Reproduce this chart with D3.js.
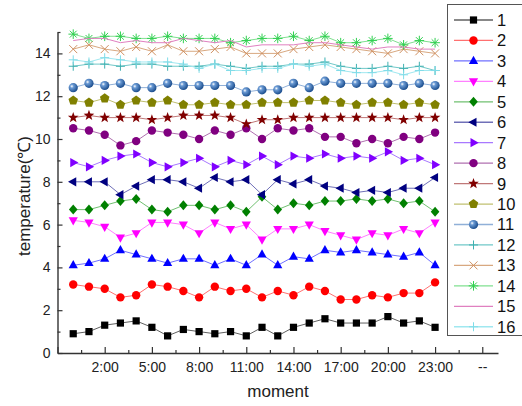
<!DOCTYPE html>
<html><head><meta charset="utf-8">
<script src="https://cdn.jsdelivr.net/npm/d3@7/dist/d3.min.js"></script>
<style>body{margin:0;background:#fff;}svg{display:block;font-family:Arial,"Liberation Sans",sans-serif;}</style>
</head><body>
<svg id="chart" width="522" height="406"></svg>
<script>
const hours = [0,1,2,3,4,5,6,7,8,9,10,11,12,13,14,15,16,17,18,19,20,21,22,23];
const xTickValues = [-1,2,5,8,11,14,17,20,23,26];
const xTickLabels = ["","2:00","5:00","8:00","11:00","14:00","17:00","20:00","23:00","--"];
const xMinorTicks = [0.5,3.5,6.5,9.5,12.5,15.5,18.5,21.5,24.5];
const yTickValues = [0,2,4,6,8,10,12,14];
const yMinorTicks = [1,3,5,7,9,11,13,15];
const seriesNames = ["1","2","3","4","5","6","7","8","9","10","11","12","13","14","15","16"];

const s1  = [0.9,1.0,1.3,1.4,1.5,1.2,0.8,1.1,1.0,0.9,1.0,0.8,1.2,0.8,1.2,1.4,1.6,1.4,1.4,1.4,1.7,1.4,1.5,1.2];
const s2  = [3.2,3.1,3.0,2.6,2.7,3.2,3.1,2.9,2.6,3.1,2.9,3.0,2.6,2.9,2.7,3.1,2.9,2.5,2.5,2.7,2.6,2.8,2.8,3.3];
const s3  = [4.1,4.2,4.4,4.8,4.6,4.4,4.2,4.4,4.4,4.1,4.4,4.1,4.6,4.1,4.5,4.4,4.8,4.7,4.8,4.7,4.6,4.5,4.7,4.1];
const s4  = [6.2,6.1,5.9,5.4,5.6,6.1,6.1,6.0,5.6,6.1,5.8,6.0,5.3,5.8,5.8,6.0,5.7,5.5,5.3,5.6,5.5,5.8,5.6,6.1];
const s5  = [6.7,6.7,6.9,7.1,7.2,6.7,6.6,6.9,6.9,6.7,6.9,6.6,7.3,6.7,7.0,6.9,7.1,7.1,7.2,7.1,7.2,7.0,7.1,6.6];
const s6  = [8.0,8.0,8.0,7.4,7.8,8.1,8.1,8.0,7.7,8.2,8.0,8.1,7.4,8.1,7.9,8.1,7.8,7.7,7.5,7.6,7.5,7.7,7.7,8.2];
const s7  = [8.9,8.7,9.0,9.2,9.3,8.9,8.7,8.9,9.1,8.7,9.0,8.8,9.2,8.8,9.2,9.1,9.3,9.1,9.2,9.1,9.4,9.0,9.1,8.8];
const s8  = [10.5,10.4,10.2,9.7,9.9,10.4,10.3,10.2,10.0,10.4,10.2,10.5,10.0,10.5,10.4,10.5,10.1,10.1,9.8,10.0,9.8,10.1,10.0,10.3];
const s9  = [11.0,11.1,11.0,11.0,11.0,10.9,11.0,11.1,11.1,11.1,11.0,10.7,10.9,10.9,11.0,11.0,11.0,11.0,11.0,11.0,11.0,10.9,11.0,11.0];
const s10 = [11.8,11.7,11.9,11.6,11.8,11.7,11.8,11.6,11.6,11.7,11.6,11.6,11.7,11.7,11.7,11.8,11.8,11.7,11.6,11.7,11.7,11.6,11.7,11.6];
const s11 = [12.4,12.6,12.5,12.6,12.4,12.4,12.6,12.5,12.5,12.5,12.5,12.2,12.3,12.3,12.6,12.4,12.7,12.6,12.6,12.6,12.6,12.5,12.6,12.5];
const s12 = [13.4,13.5,13.5,13.4,13.5,13.5,13.4,13.4,13.4,13.5,13.4,13.3,13.4,13.4,13.5,13.5,13.6,13.4,13.3,13.3,13.4,13.3,13.4,13.2];
const s13 = [14.2,14.4,14.2,14.1,14.3,14.1,14.4,14.1,14.1,14.2,14.3,14.0,14.0,14.0,14.2,14.3,14.4,14.3,14.2,14.1,14.0,14.2,14.1,14.0];
const s14 = [14.9,14.7,14.8,14.8,14.7,14.7,14.8,14.7,14.7,14.7,14.5,14.6,14.7,14.7,14.8,14.6,14.8,14.5,14.5,14.6,14.7,14.4,14.6,14.5];
const s15 = [14.6,14.7,14.7,14.5,14.6,14.5,14.5,14.7,14.6,14.5,14.6,14.3,14.4,14.4,14.4,14.5,14.5,14.4,14.3,14.2,14.3,14.3,14.2,14.2];
const s16 = [13.7,13.6,13.8,13.7,13.6,13.6,13.6,13.5,13.3,13.5,13.2,13.2,13.3,13.3,13.5,13.4,13.5,13.2,13.1,13.1,13.2,13.0,13.2,13.2];

const seriesValues = [s1,s2,s3,s4,s5,s6,s7,s8,s9,s10,s11,s12,s13,s14,s15,s16];
const markerColors = ["#000000","#ff0000","#0000ff","#ff00ff","#008000","#000080","#8000ff","#800080","#800000","#808000","#2f6eb5","#3fb0b0","#d09060","#30d050","#e070c0","#80dce8"];
const lineColors   = ["#606060","#ff7070","#7070ff","#ff80ff","#70c070","#7070b8","#a878ff","#b070b0","#c07878","#c0c070","#90b0d8","#70c8c8","#d8a880","#80e090","#e080c0","#a0e8f0"];
const markerTypes  = ["square","circle","up","down","diamond","left","right","circle","star","pentagon","sphere","plus","x","asterisk","none","plus"];

const svg = d3.select("#chart");
const x = d3.scaleLinear().domain([-1,27]).range([57.5,498]);
const y = d3.scaleLinear().domain([0,15]).range([353,32]);

const defs = svg.append("defs");
const grad = defs.append("radialGradient").attr("id","sph").attr("cx","35%").attr("cy","35%").attr("r","65%");
grad.append("stop").attr("offset","0%").attr("stop-color","#ffffff");
grad.append("stop").attr("offset","30%").attr("stop-color","#6a9ad4");
grad.append("stop").attr("offset","100%").attr("stop-color","#1d4f8f");

function poly(pts){return "M"+pts.map(p=>p[0].toFixed(2)+","+p[1].toFixed(2)).join("L")+"Z";}
function markerPath(t){
  if(t==="square") return poly([[-3.6,-3.6],[3.6,-3.6],[3.6,3.6],[-3.6,3.6]]);
  if(t==="up") return poly([[0,-5.2],[4.6,3],[-4.6,3]]);
  if(t==="down") return poly([[0,5.2],[4.6,-3],[-4.6,-3]]);
  if(t==="left") return poly([[-5.2,0],[3,-4.6],[3,4.6]]);
  if(t==="right") return poly([[5.2,0],[-3,-4.6],[-3,4.6]]);
  if(t==="diamond") return poly([[0,-5],[4.3,0],[0,5],[-4.3,0]]);
  if(t==="star"){const p=[];for(let i=0;i<10;i++){const r=i%2?2.3:5.6;const a=-Math.PI/2+i*Math.PI/5;p.push([r*Math.cos(a),r*Math.sin(a)]);}return poly(p);}
  if(t==="pentagon"){const p=[];for(let i=0;i<5;i++){const a=-Math.PI/2+i*2*Math.PI/5;p.push([5*Math.cos(a),5*Math.sin(a)]);}return poly(p);}
  if(t==="plus") return "M0,-4.5V4.5M-4.5,0H4.5";
  if(t==="x") return "M-4,-4L4,4M-4,4L4,-4";
  if(t==="asterisk") return "M0,-4.8V4.8M-4.8,0H4.8M-3.4,-3.4L3.4,3.4M-3.4,3.4L3.4,-3.4";
  return "";
}
function drawMarker(g, t, color){
  if(t==="none") return;
  if(t==="circle"){g.append("circle").attr("r",4.2).attr("fill",color);return;}
  if(t==="sphere"){g.append("circle").attr("r",4.6).attr("fill","url(#sph)");return;}
  if(t==="plus"||t==="x"||t==="asterisk"){g.append("path").attr("d",markerPath(t)).attr("fill","none").attr("stroke",color).attr("stroke-width",1);return;}
  g.append("path").attr("d",markerPath(t)).attr("fill",color);
}

// axes
const axisColor = "#333";
const xAxis = d3.axisBottom(x).tickValues(xTickValues).tickFormat((d,i)=>xTickLabels[i]).tickSizeInner(-6).tickSizeOuter(0).tickPadding(9);
const gx = svg.append("g").attr("transform","translate(0,353)").call(xAxis);
gx.select(".domain").attr("stroke",axisColor).attr("stroke-width",1.4);
gx.selectAll(".tick line").attr("stroke",axisColor).attr("stroke-width",1.2);
gx.selectAll(".tick text").attr("font-size","14px").attr("fill","#222").attr("font-family","Arial, 'Liberation Sans', sans-serif");
const gxm = svg.append("g").attr("transform","translate(0,353)").call(d3.axisBottom(x).tickValues(xMinorTicks).tickFormat("").tickSizeInner(-3).tickSizeOuter(0));
gxm.select(".domain").remove();
gxm.selectAll(".tick line").attr("stroke",axisColor).attr("stroke-width",1.2);

const yAxis = d3.axisLeft(y).tickValues(yTickValues).tickSizeInner(-5).tickSizeOuter(0).tickPadding(7);
const gy = svg.append("g").attr("transform","translate(57.5,0)").call(yAxis);
gy.select(".domain").attr("stroke",axisColor).attr("stroke-width",1.4);
gy.selectAll(".tick line").attr("stroke",axisColor).attr("stroke-width",1.2);
gy.selectAll(".tick text").attr("font-size","14px").attr("fill","#222").attr("font-family","Arial, 'Liberation Sans', sans-serif");
const gym = svg.append("g").attr("transform","translate(57.5,0)").call(d3.axisLeft(y).tickValues(yMinorTicks).tickFormat("").tickSizeInner(-3).tickSizeOuter(0));
gym.select(".domain").remove();
gym.selectAll(".tick line").attr("stroke",axisColor).attr("stroke-width",1.2);

// axis titles
svg.append("text").attr("x",278).attr("y",397).attr("text-anchor","middle").attr("font-size","17px").attr("fill","#222").text("moment");
svg.append("text").attr("transform","translate(30,196) rotate(-90)").attr("text-anchor","middle").attr("font-size","17px").attr("fill","#222").text("temperature(℃)");

// series
const line = d3.line().x((d,i)=>x(hours[i])).y(d=>y(d));
seriesValues.forEach((vals,si)=>{
  const g = svg.append("g");
  g.append("path").attr("d",line(vals)).attr("fill","none").attr("stroke",lineColors[si]).attr("stroke-width",1);
  vals.forEach((v,i)=>{
    const mg = g.append("g").attr("transform",`translate(${x(hours[i])},${y(v)})`);
    drawMarker(mg, markerTypes[si], markerColors[si]);
  });
});

// legend
const lg = svg.append("g");
lg.append("rect").attr("x",447.5).attr("y",4.5).attr("width",90).attr("height",331).attr("fill","#fff").attr("stroke","#555").attr("stroke-width",1);
seriesNames.forEach((n,i)=>{
  const yy = 20 + i*20.45;
  lg.append("line").attr("x1",454).attr("x2",493).attr("y1",yy).attr("y2",yy).attr("stroke",lineColors[i]).attr("stroke-width",1.3);
  const mg = lg.append("g").attr("transform",`translate(473.5,${yy})`);
  drawMarker(mg, markerTypes[i], markerColors[i]);
  lg.append("text").attr("x",497).attr("y",yy).attr("dy","0.36em").attr("font-size","16.5px").attr("fill","#111").text(n);
});
</script>
</body></html>
